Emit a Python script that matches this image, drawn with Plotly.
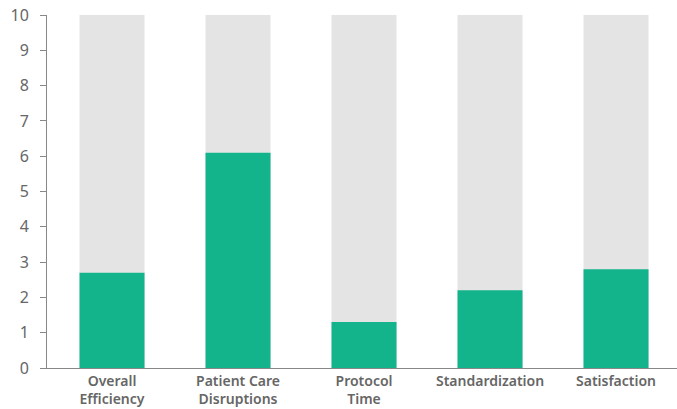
import plotly.graph_objects as go

categories = ["Overall<br>Efficiency", "Patient Care<br>Disruptions", "Protocol<br>Time", "Standardization", "Satisfaction"]
values = [2.7, 6.1, 1.3, 2.2, 2.8]
max_values = [10, 10, 10, 10, 10]
y_ticks = [0, 1, 2, 3, 4, 5, 6, 7, 8, 9, 10]

fig = go.Figure()
fig.add_trace(go.Bar(x=categories, y=max_values, marker=dict(color="#e4e4e4", line=dict(width=0)), hoverinfo="skip"))
fig.add_trace(go.Bar(x=categories, y=values, marker=dict(color="#13b48b", line=dict(width=0))))

fig.update_layout(
    width=677, height=409,
    margin=dict(l=47, r=0, t=15, b=41),
    barmode="overlay", bargap=0.484,
    showlegend=False,
    plot_bgcolor="white", paper_bgcolor="white",
    font=dict(family="Noto Sans, sans-serif", color="#666666"),
)
fig.update_xaxes(
    range=[-0.516, 4.484], showline=True, linecolor="#888888", linewidth=1,
    ticks="", tickfont=dict(size=14, color="#666666", weight=600),
    showgrid=False, fixedrange=True, automargin=False,
)
fig.update_yaxes(
    range=[0, 10], tickvals=y_ticks, showline=True, linecolor="#888888", linewidth=1,
    ticks="outside", ticklen=6, tickcolor="#888888", tickfont=dict(size=16, color="#666666"),
    ticklabelstandoff=8,
    showgrid=False, zeroline=False, fixedrange=True, automargin=False,
)
fig.write_html("out.html", config={"displayModeBar": False},
               post_script="document.body.style.margin='0';document.body.style.padding='0';")
